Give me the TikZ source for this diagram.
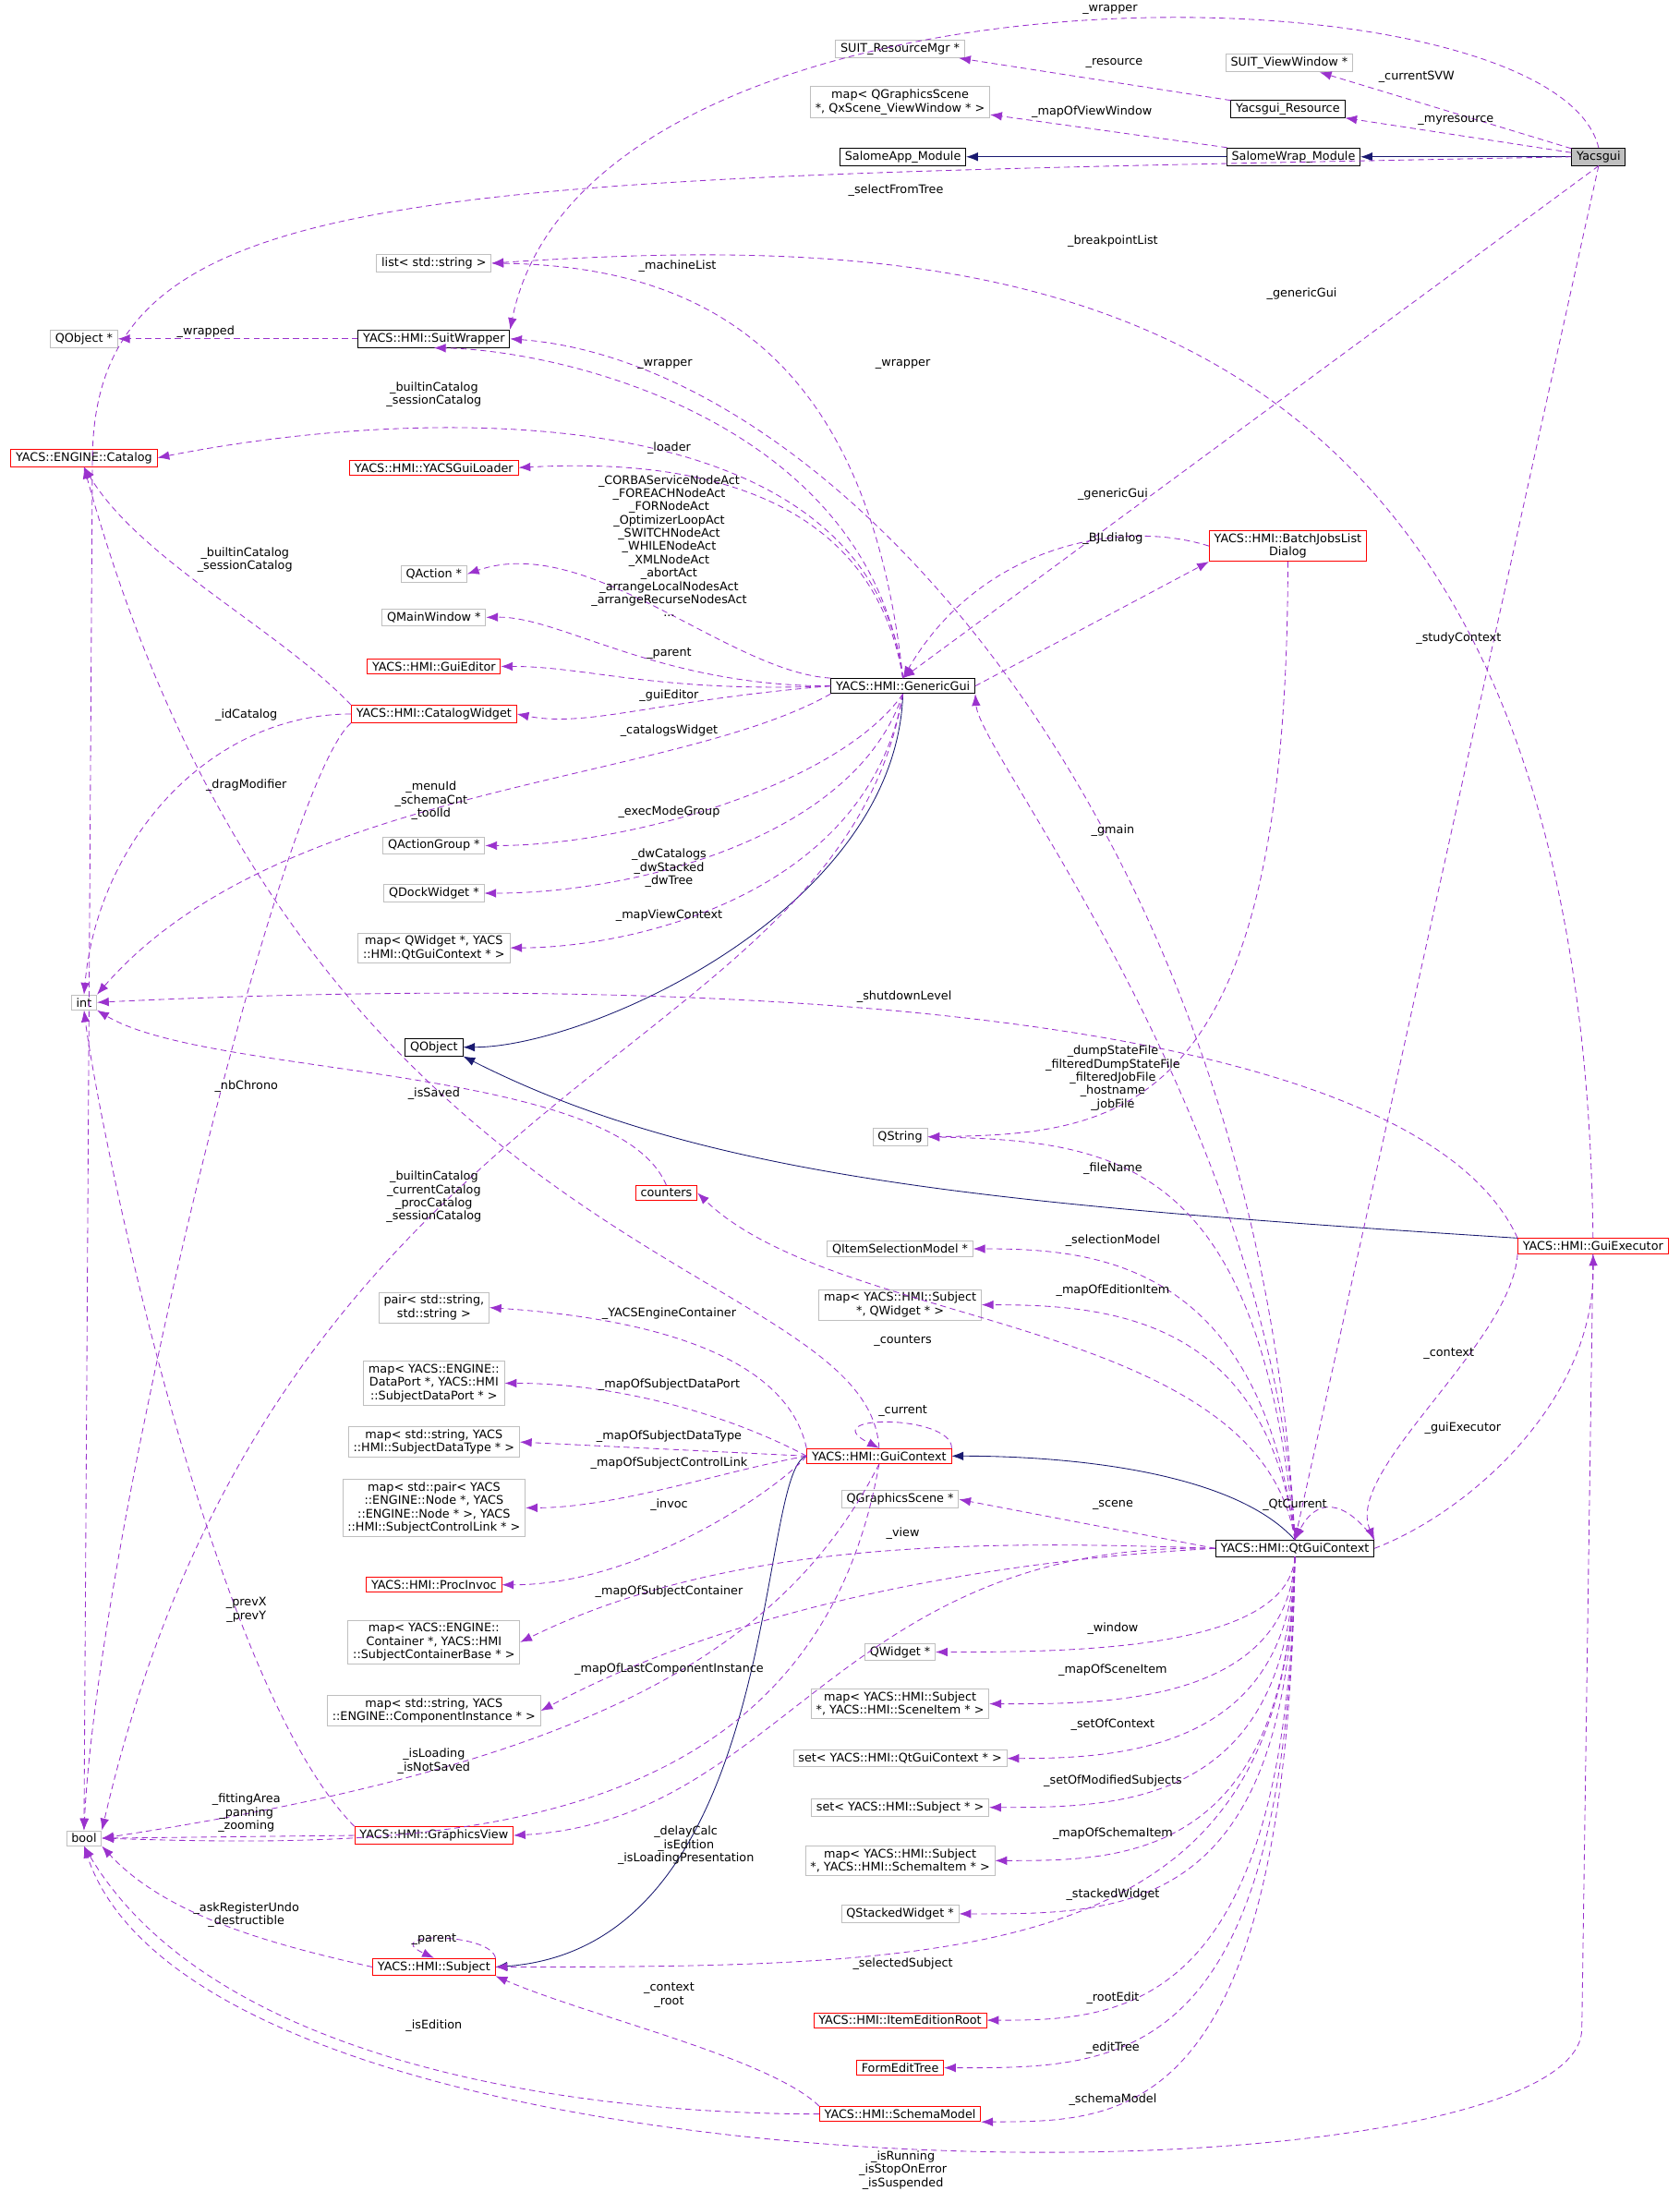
\documentclass[tikz,border=0pt]{standalone}
\usepackage{fontspec}
\setmainfont{DejaVu Sans}
\usetikzlibrary{arrows.meta}
\definecolor{edgepurple}{HTML}{9A32CD}
\definecolor{edgenavy}{HTML}{191970}
\definecolor{boxgray}{HTML}{BFBFBF}
\tikzset{
  cls/.style={draw=black, thick, font=\fontsize{12}{13.5}\selectfont, inner xsep=5pt, inner ysep=3pt, align=center, fill=white},
  ext/.style={cls, draw=boxgray},
  red/.style={cls, draw=red},
  cur/.style={cls, fill=boxgray},
  lbl/.style={font=\fontsize{12}{13.5}\selectfont, align=center, inner sep=1pt},
  inh/.style={draw=edgenavy, thick, -{Latex[length=12pt,width=9pt]}},
  mem/.style={draw=edgepurple, thick, dashed, dash pattern=on 6pt off 4pt, -{Latex[length=12pt,width=9pt]}},
}
\begin{document}
\begin{tikzpicture}[x=0.05cm, y=-0.05cm]
\useasboundingbox (0,0) rectangle (1200,1565);
% classes
\node[cur] (yg) at (1142,112) {Yacsgui};
\node[cls] (swm) at (924,112) {SalomeWrap\_Module};
\node[cls] (sam) at (645,112) {SalomeApp\_Module};
\node[cls] (ygr) at (920,78) {Yacsgui\_Resource};
\node[ext] (svw) at (921,45) {SUIT\_ViewWindow *};
\node[ext] (srm) at (643,35) {SUIT\_ResourceMgr *};
\node[ext] (mvw) at (643,73) {map< QGraphicsScene\\ *, QxScene\_ViewWindow * >};
\node[ext] (lst) at (310,188) {list< std::string >};
\node[ext] (qop) at (60,242) {QObject *};
\node[cls] (sw) at (310,242) {YACS::HMI::SuitWrapper};
\node[red] (cat) at (60,327) {YACS::ENGINE::Catalog};
\node[red] (ldr) at (310,334) {YACS::HMI::YACSGuiLoader};
\node[ext] (qac) at (310,410) {QAction *};
\node[ext] (qmw) at (310,441) {QMainWindow *};
\node[red] (ged) at (310,476) {YACS::HMI::GuiEditor};
\node[red] (cw) at (310,510) {YACS::HMI::CatalogWidget};
\node[cls] (gg) at (645,490) {YACS::HMI::GenericGui};
\node[red] (bjl) at (920,390) {YACS::HMI::BatchJobsList\\Dialog};
\node[ext] (int) at (60,716) {int};
\node[ext] (qag) at (310,604) {QActionGroup *};
\node[ext] (qdw) at (310,638) {QDockWidget *};
\node[ext] (mvc) at (310,677) {map< QWidget *, YACS\\::HMI::QtGuiContext * >};
\node[cls] (qo) at (310,748) {QObject};
\node[ext] (qs) at (643,812) {QString};
\node[red] (cnt) at (476,852) {counters};
\node[red] (ge) at (1138,890) {YACS::HMI::GuiExecutor};
\node[ext] (qsm) at (643,892) {QItemSelectionModel *};
\node[ext] (mei) at (643,932) {map< YACS::HMI::Subject\\ *, QWidget * >};
\node[ext] (pr) at (310,934) {pair< std::string,\\ std::string >};
\node[ext] (mdp) at (310,988) {map< YACS::ENGINE::\\DataPort *, YACS::HMI\\::SubjectDataPort * >};
\node[ext] (mdt) at (310,1030) {map< std::string, YACS\\::HMI::SubjectDataType * >};
\node[red] (gc) at (628,1040) {YACS::HMI::GuiContext};
\node[ext] (mcl) at (310,1077) {map< std::pair< YACS\\::ENGINE::Node *, YACS\\::ENGINE::Node * >, YACS\\::HMI::SubjectControlLink * >};
\node[ext] (qgs) at (643,1071) {QGraphicsScene *};
\node[cls] (qt) at (925,1106) {YACS::HMI::QtGuiContext};
\node[red] (pi) at (310,1132) {YACS::HMI::ProcInvoc};
\node[ext] (mct) at (310,1173) {map< YACS::ENGINE::\\Container *, YACS::HMI\\::SubjectContainerBase * >};
\node[ext] (qw) at (643,1180) {QWidget *};
\node[ext] (mci) at (310,1222) {map< std::string, YACS\\::ENGINE::ComponentInstance * >};
\node[ext] (msi) at (643,1217) {map< YACS::HMI::Subject\\ *, YACS::HMI::SceneItem * >};
\node[ext] (soc) at (643,1256) {set< YACS::HMI::QtGuiContext * >};
\node[ext] (sos) at (643,1291) {set< YACS::HMI::Subject * >};
\node[ext] (msc) at (643,1329) {map< YACS::HMI::Subject\\ *, YACS::HMI::SchemaItem * >};
\node[ext] (bool) at (60,1313) {bool};
\node[red] (gv) at (310,1311) {YACS::HMI::GraphicsView};
\node[ext] (qsw) at (643,1367) {QStackedWidget *};
\node[red] (sub) at (310,1405) {YACS::HMI::Subject};
\node[red] (ier) at (643,1443) {YACS::HMI::ItemEditionRoot};
\node[red] (fet) at (643,1477) {FormEditTree};
\node[red] (sm) at (643,1510) {YACS::HMI::SchemaModel};
\coordinate (sft) at (66,330);
\coordinate (gebot) at (1130,1450);
% inheritance
\draw[inh] (swm) -- (sam);
\draw[inh] (yg) -- (swm);
\draw[inh] (gg.south) .. controls (640,650) and (420,748) .. (qo.east);
\draw[inh] (ge.north west) .. controls (700,860) and (500,840) .. (qo.south east);
\draw[inh] (qt.north) .. controls (880,1050) and (760,1040) .. (gc.east);
\draw[inh] (gc.west) .. controls (540,1050) and (560,1390) .. (sub.east);
% members of Yacsgui
\draw[mem] (yg) -- (svw);
\draw[mem] (yg) -- (ygr);
\draw[mem] (ygr) -- (srm);
\draw[mem] (swm) -- (mvw);
\draw[mem] (yg.north) .. controls (1110,-30) and (420,-40) .. (sw.north east);
\draw[mem] (yg.west) .. controls (300,128) and (66,125) .. (sft) -- (bool.north);
\draw[mem] (yg.south) -- (gg.north);
\draw[mem] (yg.south) -- (qt.north);
\draw[mem] (ge.north) .. controls (1130,180) and (700,165) .. (lst.east);
\draw[mem] (sw) -- (qop);
\draw[mem] (qt.north) .. controls (900,600) and (600,260) .. (sw.east);
% members of GenericGui
\draw[mem] (gg.north) .. controls (620,300) and (400,250) .. (sw.south);
\draw[mem] (gg.north) .. controls (620,250) and (500,190) .. (lst.east);
\draw[mem] (gg.north) .. controls (620,280) and (300,290) .. (cat.east);
\draw[mem] (gg.north) .. controls (620,330) and (450,330) .. (ldr.east);
\draw[mem] (gg.north west) .. controls (520,480) and (420,380) .. (qac.east);
\draw[mem] (gg.west) .. controls (470,490) and (400,440) .. (qmw.east);
\draw[mem] (gg.west) .. controls (470,495) and (420,476) .. (ged.east);
\draw[mem] (gg.west) .. controls (470,500) and (420,520) .. (cw.east);
\draw[mem] (gg.south west) .. controls (480,560) and (200,560) .. (int.north east);
\draw[mem] (gg.south) .. controls (600,560) and (450,604) .. (qag.east);
\draw[mem] (gg.south) .. controls (610,600) and (450,638) .. (qdw.east);
\draw[mem] (gg.south) .. controls (620,640) and (450,677) .. (mvc.east);
\draw[mem] (gg.south) .. controls (600,760) and (200,760) .. (bool.north east);
\draw[mem] (gg.east) -- (bjl.south west);
\draw[mem] (bjl.west) .. controls (800,370) and (700,390) .. (gg.north);
\draw[mem] (bjl.south) .. controls (920,800) and (800,810) .. (qs.east);
% members of CatalogWidget, counters, GuiExecutor
\draw[mem] (cw.north west) .. controls (200,450) and (100,400) .. (cat.south);
\draw[mem] (cw.west) .. controls (150,510) and (70,600) .. (int.north);
\draw[mem] (cw.south west) .. controls (200,560) and (70,1100) .. (bool.north);
\draw[mem] (ge.north west) .. controls (1000,700) and (400,700) .. (int.east);
\draw[mem] (ge.south) -- (gebot) .. controls (1125,1580) and (150,1585) .. (bool.south);
\draw[mem] (cnt.north) .. controls (440,760) and (150,770) .. (int.south east);
% members of GuiContext
\draw[mem] (gc.north) .. controls (620,900) and (220,910) .. (cat.south);
\draw[mem] (gc.north west) .. controls (560,960) and (440,940) .. (pr.east);
\draw[mem] (gc.west) .. controls (520,1010) and (440,988) .. (mdp.east);
\draw[mem] (gc.west) -- (mdt.east);
\draw[mem] (gc.west) .. controls (520,1050) and (440,1077) .. (mcl.east);
\draw[mem] (gc.west) .. controls (560,1060) and (460,1132) .. (pi.east);
\draw[mem] (gc.south) .. controls (560,1180) and (420,1260) .. (bool.east);
\draw[mem] (gc.north east) .. controls (680,1010) and (580,1010) .. (gc.north);
\draw[mem] (gc.south) .. controls (580,1320) and (300,1320) .. (bool.east);
% members of QtGuiContext
\draw[mem] (qt.north) .. controls (900,940) and (600,950) .. (cnt.east);
\draw[mem] (qt.north) .. controls (900,830) and (800,815) .. (qs.east);
\draw[mem] (qt.north) .. controls (900,900) and (780,892) .. (qsm.east);
\draw[mem] (qt.north) .. controls (905,940) and (790,932) .. (mei.east);
\draw[mem] (qt.north) .. controls (910,800) and (700,540) .. (gg.south east);
\draw[mem] (qt.east) .. controls (1050,1080) and (1140,1000) .. (ge.south);
\draw[mem] (ge.south west) .. controls (1080,960) and (960,1050) .. (qt.north east);
\draw[mem] (qt.north east) .. controls (960,1070) and (940,1070) .. (qt.north);
\draw[mem] (qt.west) -- (qgs.east);
\draw[mem] (qt.west) .. controls (700,1100) and (520,1100) .. (mct.east);
\draw[mem] (qt.west) .. controls (700,1115) and (520,1150) .. (mci.east);
\draw[mem] (qt.west) .. controls (600,1100) and (560,1300) .. (gv.east);
\draw[mem] (qt.south) .. controls (920,1180) and (760,1180) .. (qw.east);
\draw[mem] (qt.south) .. controls (920,1220) and (780,1217) .. (msi.east);
\draw[mem] (qt.south) .. controls (920,1250) and (800,1256) .. (soc.east);
\draw[mem] (qt.south) .. controls (920,1290) and (800,1291) .. (sos.east);
\draw[mem] (qt.south) .. controls (920,1330) and (800,1329) .. (msc.east);
\draw[mem] (qt.south) .. controls (920,1370) and (800,1367) .. (qsw.east);
\draw[mem] (qt.south) .. controls (920,1400) and (700,1405) .. (sub.east);
\draw[mem] (qt.south) .. controls (920,1440) and (800,1443) .. (ier.east);
\draw[mem] (qt.south) .. controls (920,1480) and (800,1477) .. (fet.east);
\draw[mem] (qt.south) .. controls (920,1520) and (800,1515) .. (sm.south east);
% members of GraphicsView, Subject, SchemaModel
\draw[mem] (gv.north west) .. controls (150,1200) and (70,800) .. (int.south);
\draw[mem] (gv.west) -- (bool.east);
\draw[mem] (sub.west) .. controls (200,1390) and (120,1370) .. (bool.south east);
\draw[mem] (sub.north east) .. controls (350,1380) and (270,1380) .. (sub.north);
\draw[mem] (sm.north west) .. controls (550,1470) and (420,1440) .. (sub.south east);
\draw[mem] (sm.west) .. controls (400,1510) and (150,1470) .. (bool.south);
% labels
\node[lbl] (l01) at (793,7) {\_wrapper};
\node[lbl] (l02) at (1012,55) {\_currentSVW};
\node[lbl] (l03) at (796,45) {\_resource};
\node[lbl] (l04) at (1040,86) {\_myresource};
\node[lbl] (l05) at (780,80) {\_mapOfViewWindow};
\node[lbl] (l06) at (640,136) {\_selectFromTree};
\node[lbl] (l07) at (795,172) {\_breakpointList};
\node[lbl] (l08) at (484,190) {\_machineList};
\node[lbl] (l09) at (930,210) {\_genericGui};
\node[lbl] (l10) at (147,237) {\_wrapped};
\node[lbl] (l11) at (475,260) {\_wrapper};
\node[lbl] (l12) at (645,260) {\_wrapper};
\node[lbl] (l13) at (310,282) {\_builtinCatalog\\\_sessionCatalog};
\node[lbl] (l14) at (478,320) {\_loader};
\node[lbl] (l15) at (478,390) {\_CORBAServiceNodeAct\\\_FOREACHNodeAct\\\_FORNodeAct\\\_OptimizerLoopAct\\\_SWITCHNodeAct\\\_WHILENodeAct\\\_XMLNodeAct\\\_abortAct\\\_arrangeLocalNodesAct\\\_arrangeRecurseNodesAct\\...};
\node[lbl] (l16) at (795,353) {\_genericGui};
\node[lbl] (l17) at (795,385) {\_BJLdialog};
\node[lbl] (l18) at (478,467) {\_parent};
\node[lbl] (l19) at (478,497) {\_guiEditor};
\node[lbl] (l20) at (478,522) {\_catalogsWidget};
\node[lbl] (l21) at (175,400) {\_builtinCatalog\\\_sessionCatalog};
\node[lbl] (l22) at (176,511) {\_idCatalog};
\node[lbl] (l23) at (176,561) {\_dragModifier};
\node[lbl] (l24) at (308,572) {\_menuId\\\_schemaCnt\\\_toolId};
\node[lbl] (l25) at (478,580) {\_execModeGroup};
\node[lbl] (l26) at (478,620) {\_dwCatalogs\\\_dwStacked\\\_dwTree};
\node[lbl] (l27) at (478,654) {\_mapViewContext};
\node[lbl] (l28) at (1042,456) {\_studyContext};
\node[lbl] (l29) at (795,593) {\_gmain};
\node[lbl] (l30) at (646,712) {\_shutdownLevel};
\node[lbl] (l31) at (176,776) {\_nbChrono};
\node[lbl] (l32) at (310,781) {\_isSaved};
\node[lbl] (l33) at (795,770) {\_dumpStateFile\\\_filteredDumpStateFile\\\_filteredJobFile\\\_hostname\\\_jobFile};
\node[lbl] (l34) at (795,835) {\_fileName};
\node[lbl] (l35) at (310,855) {\_builtinCatalog\\\_currentCatalog\\\_procCatalog\\\_sessionCatalog};
\node[lbl] (l36) at (795,886) {\_selectionModel};
\node[lbl] (l37) at (795,922) {\_mapOfEditionItem};
\node[lbl] (l38) at (478,938) {\_YACSEngineContainer};
\node[lbl] (l39) at (645,958) {\_counters};
\node[lbl] (l40) at (1035,967) {\_context};
\node[lbl] (l41) at (478,989) {\_mapOfSubjectDataPort};
\node[lbl] (l42) at (645,1008) {\_current};
\node[lbl] (l43) at (1045,1020) {\_guiExecutor};
\node[lbl] (l44) at (478,1026) {\_mapOfSubjectDataType};
\node[lbl] (l45) at (478,1045) {\_mapOfSubjectControlLink};
\node[lbl] (l46) at (925,1075) {\_QtCurrent};
\node[lbl] (l47) at (795,1075) {\_scene};
\node[lbl] (l48) at (478,1075) {\_invoc};
\node[lbl] (l49) at (645,1095) {\_view};
\node[lbl] (l50) at (176,1150) {\_prevX\\\_prevY};
\node[lbl] (l51) at (478,1137) {\_mapOfSubjectContainer};
\node[lbl] (l52) at (795,1163) {\_window};
\node[lbl] (l53) at (478,1192) {\_mapOfLastComponentInstance};
\node[lbl] (l54) at (795,1193) {\_mapOfSceneItem};
\node[lbl] (l55) at (795,1232) {\_setOfContext};
\node[lbl] (l56) at (310,1258) {\_isLoading\\\_isNotSaved};
\node[lbl] (l57) at (795,1272) {\_setOfModifiedSubjects};
\node[lbl] (l58) at (176,1295) {\_fittingArea\\\_panning\\\_zooming};
\node[lbl] (l59) at (490,1318) {\_delayCalc\\\_isEdition\\\_isLoadingPresentation};
\node[lbl] (l60) at (795,1310) {\_mapOfSchemaItem};
\node[lbl] (l61) at (795,1353) {\_stackedWidget};
\node[lbl] (l62) at (176,1368) {\_askRegisterUndo\\\_destructible};
\node[lbl] (l63) at (310,1385) {\_parent};
\node[lbl] (l64) at (645,1403) {\_selectedSubject};
\node[lbl] (l65) at (478,1425) {\_context\\\_root};
\node[lbl] (l66) at (795,1427) {\_rootEdit};
\node[lbl] (l67) at (310,1447) {\_isEdition};
\node[lbl] (l68) at (795,1463) {\_editTree};
\node[lbl] (l69) at (795,1500) {\_schemaModel};
\node[lbl] (l70) at (645,1550) {\_isRunning\\\_isStopOnError\\\_isSuspended};
\end{tikzpicture}
\end{document}
